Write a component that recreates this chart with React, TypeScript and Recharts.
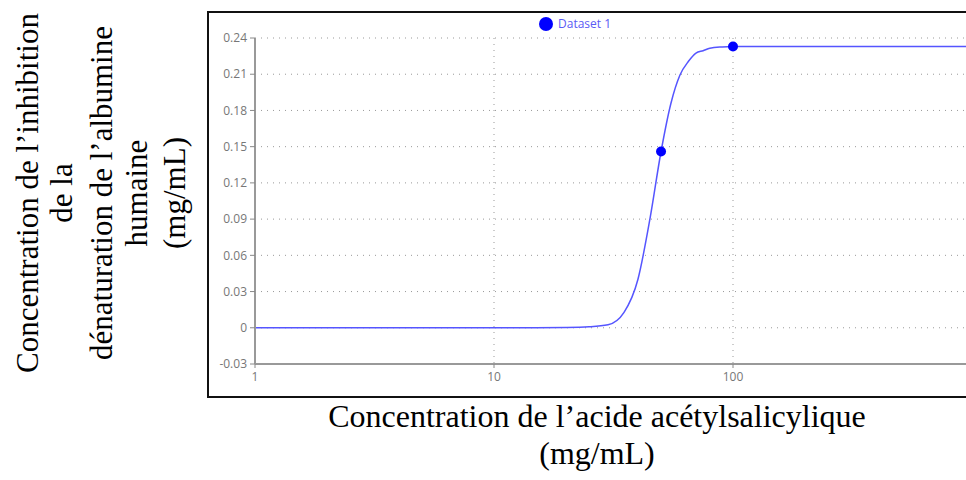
import {
    ComposedChart,
    Line,
    Scatter,
    XAxis,
    YAxis,
    CartesianGrid,
    Legend
} from 'recharts';

// fitted curve
const fitX = [1, 2, 5, 10, 15, 20, 25, 30, 35, 40, 45, 50, 55, 60, 65, 70, 75, 80, 90, 100, 200, 500, 1000];
const fitY = [0, 0, 0, 0, 0, 0.0002, 0.0008, 0.0025, 0.0128, 0.04, 0.091, 0.146, 0.186, 0.2094, 0.2205, 0.2275, 0.2295, 0.2315, 0.2326, 0.233, 0.233, 0.233, 0.233];

// measured points
const pointX = [50, 100];
const pointY = [0.146, 0.233];

const xTicks = [1, 10, 100];
const yTicks = [-0.03, 0, 0.03, 0.06, 0.09, 0.12, 0.15, 0.18, 0.21, 0.24];

const seriesName = 'Dataset 1';
const xTitle = ['Concentration de l’acide acétylsalicylique', '(mg/mL)'];
const yTitle = ['Concentration de l’inhibition', 'de la', 'dénaturation de l’albumine', 'humaine', '(mg/mL)'];

const fitData = fitX.map((x, i) => ({ x, y: fitY[i] }));
const pointData = pointX.map((x, i) => ({ x, y: pointY[i] }));

const tickStyle = { fill: '#777', fontSize: 12, fontFamily: '"Open Sans", sans-serif' };
const yTitleX = [38, 72, 112, 147, 185];

function LegendContent() {
    return (
        <div style={{ display: 'flex', alignItems: 'center', fontFamily: '"Open Sans", sans-serif', fontSize: 12, color: '#5b5bf5' }}>
            <svg width={14} height={14} style={{ marginRight: 5 }}>
                <circle cx={7} cy={7} r={7} fill="#0000ff" />
            </svg>
            <span>{seriesName}</span>
        </div>
    );
}

export default function App() {
    return (
        <div style={{ position: 'fixed', left: 0, top: 0, width: 966, height: 480, overflow: 'hidden', background: '#fff' }}>
            <div style={{ position: 'absolute', left: 207, top: 11, width: 820, height: 383, border: '2px solid #111' }} />
            <div style={{ position: 'absolute', left: 0, top: 0 }}>
                <ComposedChart width={977} height={480} margin={{ top: 38, right: 5, bottom: 96, left: 210 }}>
                    <CartesianGrid stroke="#999" strokeDasharray="1 5" ticks={xTicks} />
                    <XAxis
                        dataKey="x"
                        type="number"
                        scale="log"
                        domain={[1, 1000]}
                        ticks={xTicks}
                        allowDataOverflow
                        height={20}
                        tick={tickStyle}
                        tickSize={4}
                        tickMargin={4}
                        axisLine={{ stroke: '#999', strokeWidth: 2 }}
                        tickLine={{ stroke: '#888' }}
                    />
                    <YAxis
                        dataKey="y"
                        type="number"
                        domain={[-0.03, 0.24]}
                        ticks={yTicks}
                        width={45}
                        tick={tickStyle}
                        tickSize={5}
                        tickMargin={3}
                        axisLine={{ stroke: '#999', strokeWidth: 2 }}
                        tickLine={{ stroke: '#888' }}
                    />
                    <Line
                        data={fitData}
                        dataKey="y"
                        type="monotone"
                        stroke="#5555ff"
                        strokeWidth={1.5}
                        dot={false}
                        legendType="none"
                        isAnimationActive={false}
                    />
                    <Scatter
                        name={seriesName}
                        data={pointData}
                        dataKey="y"
                        fill="#0000ff"
                        shape={(p: any) => <circle cx={p.cx} cy={p.cy} r={5} fill="#0000ff" />}
                        isAnimationActive={false}
                    />
                    <Legend
                        layout="horizontal"
                        verticalAlign="middle"
                        align="center"
                        content={<LegendContent />}
                        wrapperStyle={{ top: 15, left: 539, width: 'auto' }}
                    />
                </ComposedChart>
            </div>
            <svg width={966} height={480} style={{ position: 'absolute', left: 0, top: 0, pointerEvents: 'none' }}>
                <g fontFamily='"Liberation Serif", "Times New Roman", serif' fill="#000" textAnchor="middle">
                    <text x={597} y={427} fontSize={32}>{xTitle[0]}</text>
                    <text x={597} y={464} fontSize={32}>{xTitle[1]}</text>
                    {yTitle.map((line, i) => (
                        <text key={i} fontSize={31} transform={`translate(${yTitleX[i]}, 193) rotate(-90)`}>{line}</text>
                    ))}
                </g>
            </svg>
        </div>
    );
}
